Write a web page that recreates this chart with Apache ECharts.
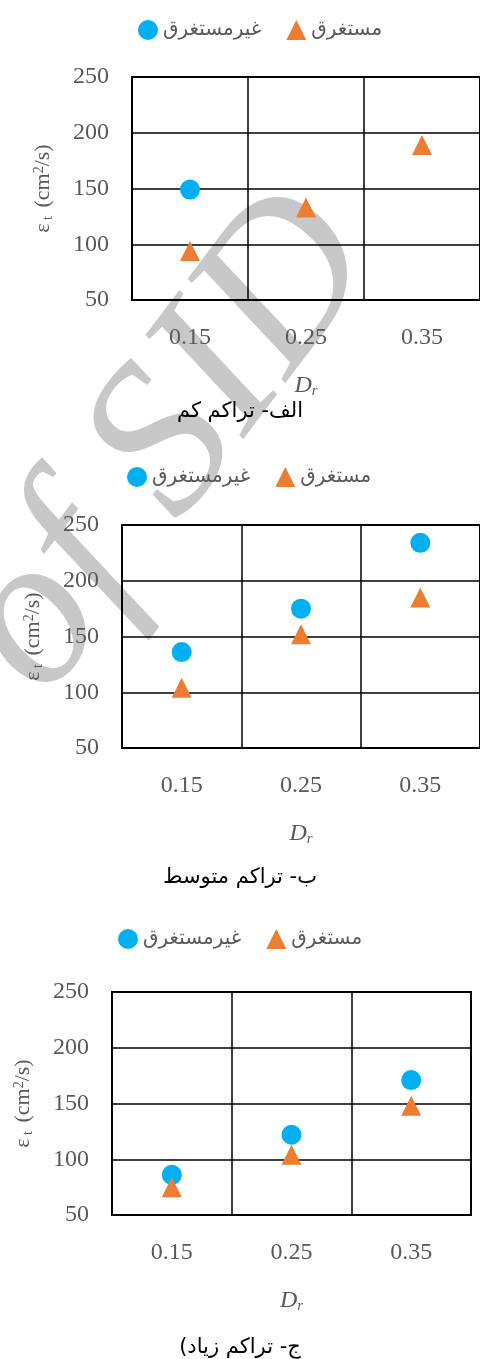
<!DOCTYPE html>
<html>
<head>
<meta charset="utf-8">
<script src="https://cdn.jsdelivr.net/npm/echarts@6/dist/echarts.min.js"></script>
<style>html,body{margin:0;padding:0;background:#fff}#c{width:480px;height:1359px}</style>
</head>
<body>
<div id="c"></div>
<script>
// ---- data ----
const categories = ['0.15', '0.25', '0.35'];
const seriesNames = ['غیرمستغرق', 'مستغرق'];
const yTicks = { min: 50, max: 250, interval: 50 };
// الف- تراکم کم
const lowUnsubmerged = [149, null, null];
const lowSubmerged = [94, 133, 189];
// ب- تراکم متوسط
const midUnsubmerged = [136, 175, 234];
const midSubmerged = [104, 152, 185];
// ج- تراکم زیاد
const highUnsubmerged = [86, 122, 171];
const highSubmerged = [75, 104, 148];
const subtitles = ['الف- تراکم کم', 'ب- تراکم متوسط', 'ج- تراکم زیاد)\u200F'];
const watermark = 'of SID';

// ---- layout ----
const panels = [
  { left: 132, top: 77, legendLeft: 138, legendTop: 20, sub: 411, u: lowUnsubmerged, s: lowSubmerged },
  { left: 122, top: 525, legendLeft: 127, legendTop: 467, sub: 877, u: midUnsubmerged, s: midSubmerged },
  { left: 112, top: 992, legendLeft: 118, legendTop: 929, sub: 1347, u: highUnsubmerged, s: highSubmerged }
];
const BLUE = '#00B0F0', ORANGE = '#ED7D31', GREY = '#595959';
const serif = '"Liberation Serif", "Times New Roman", serif';
const arabic = '"DejaVu Sans", "Noto Sans", sans-serif';

const grid = [], xAxis = [], yAxis = [], series = [], legend = [], graphic = [];
panels.forEach((p, i) => {
  grid.push({ left: p.left, top: p.top, width: 359, height: 223, show: true, borderColor: '#000', borderWidth: 2, backgroundColor: 'transparent' });
  xAxis.push({
    gridIndex: i, type: 'category', data: categories, boundaryGap: true,
    axisLine: { show: true, lineStyle: { color: '#000', width: 2 } },
    axisTick: { show: false },
    splitLine: { show: true, lineStyle: { color: '#000', width: 1.5 } },
    axisLabel: { margin: 26, color: GREY, fontSize: 24, fontFamily: serif },
    name: '{d|D}{r|r}', nameLocation: 'middle', nameGap: 73,
    nameTextStyle: {
      rich: {
        d: { fontSize: 24, fontStyle: 'italic', fontFamily: serif, color: GREY },
        r: { fontSize: 15, fontStyle: 'italic', fontFamily: serif, color: GREY, verticalAlign: 'bottom', padding: [11, 0, 0, 0] }
      }
    }
  });
  yAxis.push({
    gridIndex: i, type: 'value', min: yTicks.min, max: yTicks.max, interval: yTicks.interval,
    axisLine: { show: true, lineStyle: { color: '#000', width: 2 } },
    axisTick: { show: false },
    splitLine: { show: true, lineStyle: { color: '#000', width: 1.5 } },
    axisLabel: { margin: 23, color: GREY, fontSize: 24, fontFamily: serif },
    name: '{a|ε}{s| t}{a| (cm}{p|2}{a|/s)}', nameLocation: 'middle', nameGap: 77, nameRotate: 90,
    nameTextStyle: {
      rich: {
        a: { fontSize: 22, fontFamily: serif, color: GREY },
        s: { fontSize: 14, fontFamily: serif, color: GREY, verticalAlign: 'bottom', padding: [9, 3, 0, 0] },
        p: { fontSize: 14, fontFamily: serif, color: GREY, verticalAlign: 'top', padding: [0, 0, 9, 0] }
      }
    }
  });
  series.push({
    name: seriesNames[0], type: 'scatter', xAxisIndex: i, yAxisIndex: i, data: p.u,
    symbol: 'circle', symbolSize: 20, itemStyle: { color: BLUE, opacity: 1 }, z: 3
  });
  series.push({
    name: seriesNames[1], type: 'scatter', xAxisIndex: i, yAxisIndex: i, data: p.s,
    symbol: 'triangle', symbolSize: 20, itemStyle: { color: ORANGE, opacity: 1 }, z: 4
  });
  legend.push({
    left: p.legendLeft, top: p.legendTop, padding: 0, orient: 'horizontal', itemWidth: 20, itemHeight: 20, itemGap: 25,
    data: [{ name: seriesNames[0], icon: 'circle' }, { name: seriesNames[1], icon: 'triangle' }],
    textStyle: { fontSize: 20, fontFamily: arabic, color: GREY },
    selectedMode: false
  });
  graphic.push({
    type: 'text', left: 'center', top: p.sub - 10, z: 10,
    style: { text: subtitles[i], font: '21px ' + arabic, fill: '#000' }
  });
});
graphic.push({
  type: 'text', x: 168, y: 445, rotation: 53 * Math.PI / 180, z: -10, silent: true,
  style: { text: watermark, font: 'italic 215px ' + serif, fill: '#c8c8c8', align: 'center', verticalAlign: 'middle' }
});

const chart = echarts.init(document.getElementById('c'), null, { renderer: 'canvas', width: 480, height: 1359 });
chart.setOption({ animation: false, backgroundColor: '#fff', grid, xAxis, yAxis, series, legend, graphic });
</script>
</body>
</html>
